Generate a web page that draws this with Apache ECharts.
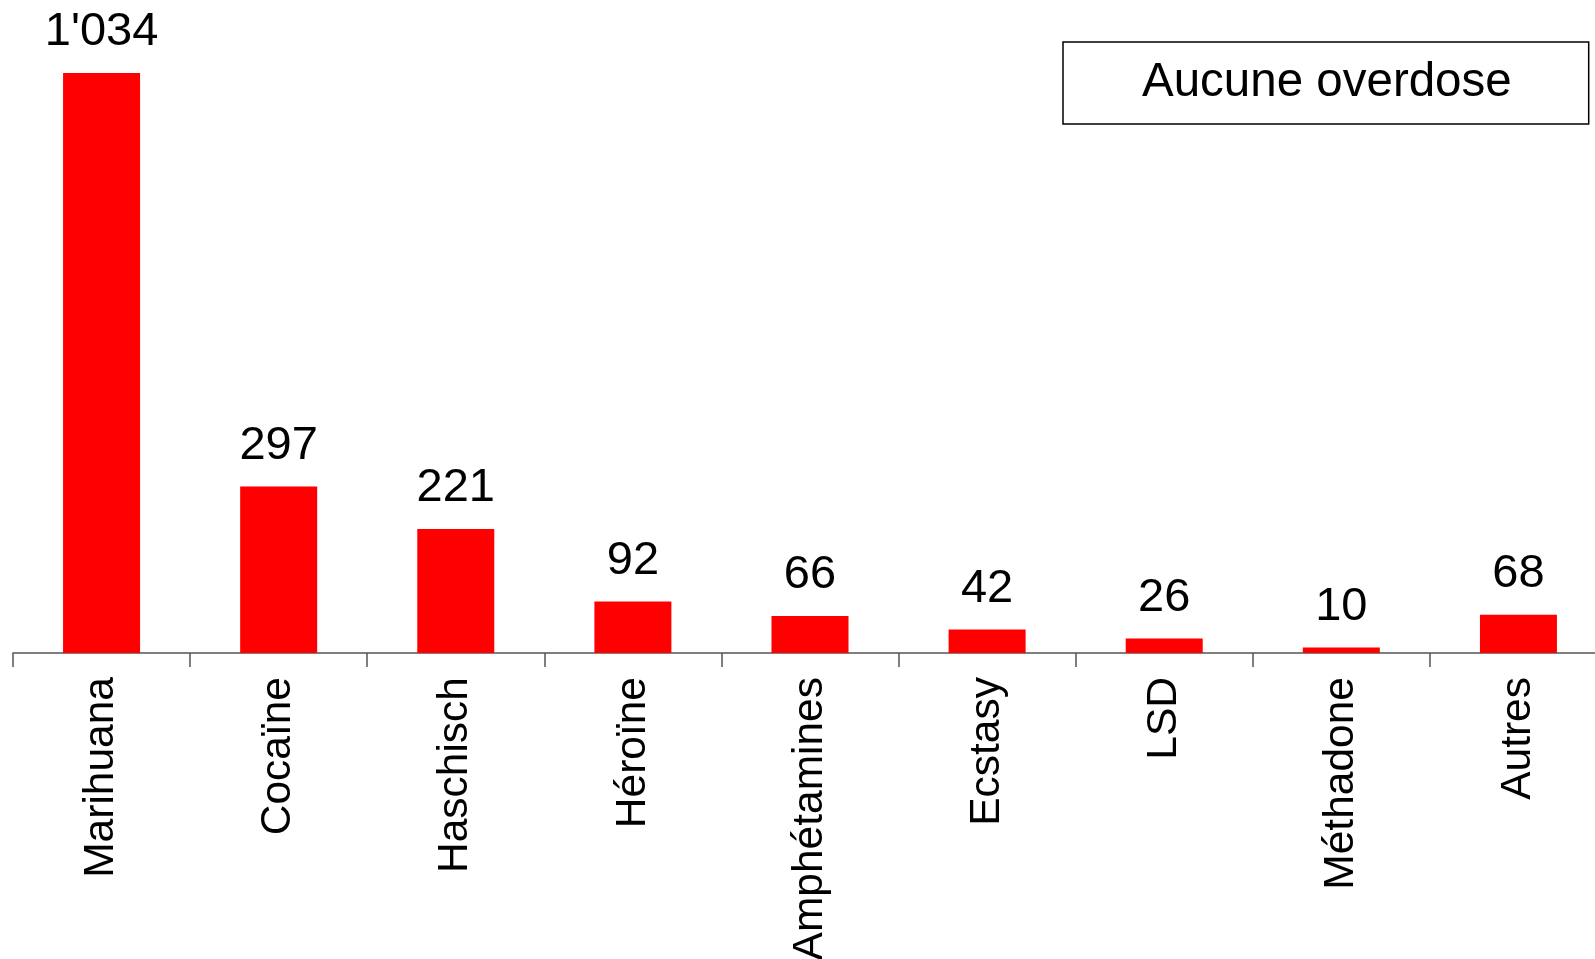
<!DOCTYPE html>
<html>
<head>
<meta charset="utf-8">
<title>Aucune overdose</title>
<script src="https://cdn.jsdelivr.net/npm/echarts@6/dist/echarts.min.js"></script>
<style>
  html, body { margin: 0; padding: 0; background: #fff; }
  #chart { width: 1595px; height: 959px; }
</style>
</head>
<body>
<div id="chart"></div>
<script>
// données
var categories = ['Marihuana', 'Cocaïne', 'Haschisch', 'Héroïne', 'Amphétamines', 'Ecstasy', 'LSD', 'Méthadone', 'Autres'];
var values = [1034, 297, 221, 92, 66, 42, 26, 10, 68];
var seriesName = 'Aucune overdose';

// 1034 -> 1'034
function fmt(v) {
    return String(v).replace(/\B(?=(\d{3})+(?!\d))/g, "'");
}

var font = '"Liberation Sans", Arial, Helvetica, sans-serif';
var chart = echarts.init(document.getElementById('chart'));

var option = {
    animation: false,
    backgroundColor: '#fff',
    grid: {
        left: 13,
        top: 0,
        width: 1594,
        height: 653,
        containLabel: false,
        outerBoundsMode: 'none'
    },
    legend: {
        data: [seriesName],
        left: 1063,
        top: 42,
        icon: 'none',
        itemWidth: 0,
        itemGap: 0,
        padding: [17, 77, 17, 74],
        borderColor: '#000',
        borderWidth: 1.5,
        selectedMode: false,
        textStyle: {
            fontFamily: font,
            fontSize: 47.5,
            color: '#000'
        }
    },
    xAxis: {
        type: 'category',
        data: categories,
        axisLine: { show: true, lineStyle: { color: '#555', width: 1.5 } },
        axisTick: { show: true, length: 14, lineStyle: { color: '#555', width: 1.5 } },
        axisLabel: {
            rotate: 90,
            margin: 24,
            interval: 0,
            fontFamily: font,
            fontSize: 42.5,
            color: '#000'
        }
    },
    yAxis: {
        type: 'value',
        min: 0,
        max: 1164,
        show: false,
        splitLine: { show: false }
    },
    series: [{
        name: seriesName,
        type: 'bar',
        data: values,
        barWidth: 77,
        itemStyle: { color: '#ff0000' },
        label: {
            show: true,
            position: 'top',
            distance: 17,
            fontFamily: font,
            fontSize: 47,
            color: '#000',
            formatter: function (p) { return fmt(p.value); }
        }
    }]
};

chart.setOption(option);
</script>
</body>
</html>
